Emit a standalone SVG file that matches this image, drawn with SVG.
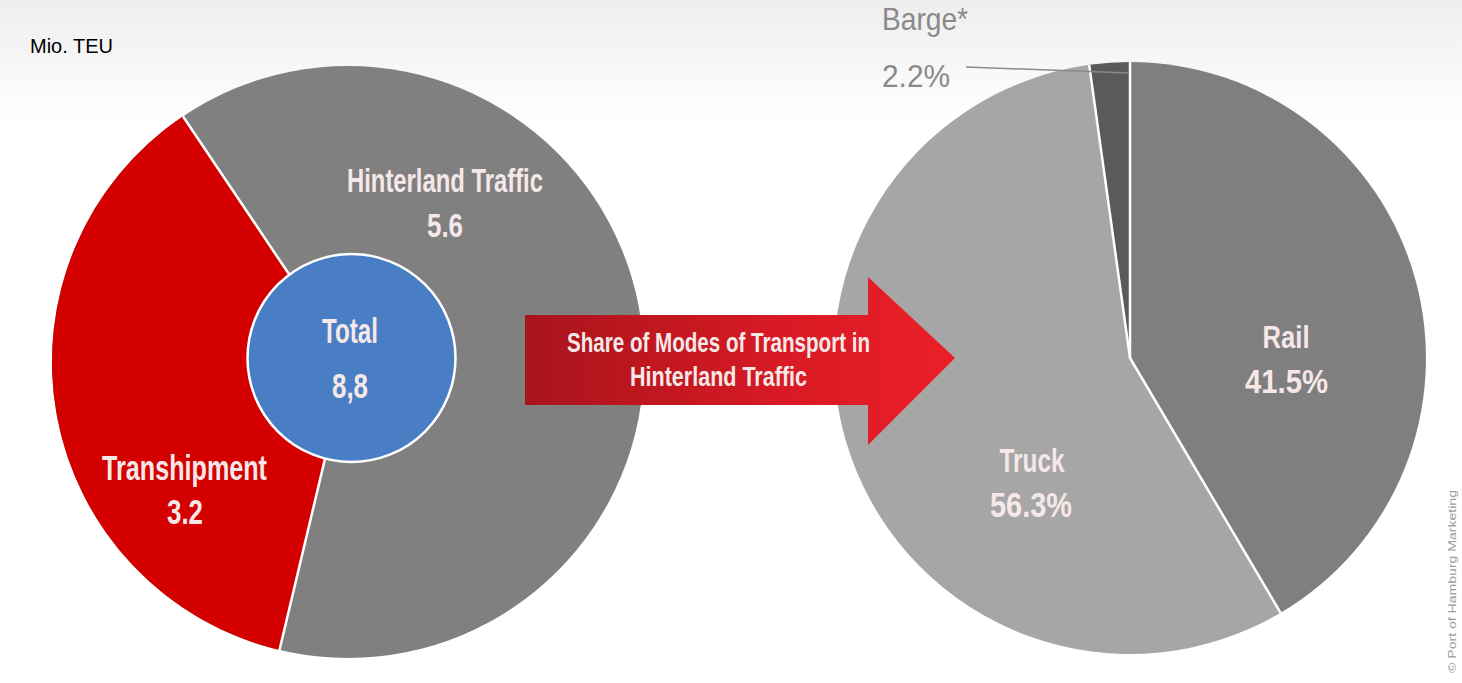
<svg xmlns="http://www.w3.org/2000/svg" width="1462" height="683" viewBox="0 0 1462 683">
<defs>
<linearGradient id="bg" x1="0" y1="0" x2="0" y2="1">
<stop offset="0" stop-color="#eeeeee"/>
<stop offset="0.18" stop-color="#ffffff"/>
<stop offset="1" stop-color="#ffffff"/>
</linearGradient>
<linearGradient id="arrowGrad" x1="0" y1="0" x2="1" y2="0">
<stop offset="0" stop-color="#a8141c"/>
<stop offset="0.6" stop-color="#d81a24"/>
<stop offset="1" stop-color="#ec1f27"/>
</linearGradient>
</defs>
<style>
.lbl{font-family:"Liberation Sans",Arial,sans-serif;font-weight:bold;fill:#f6e8e8;text-anchor:middle}
.sep{stroke:#ffffff;stroke-width:2.5;fill:none}
.gray-lbl{font-family:"Liberation Sans",Arial,sans-serif;font-weight:normal;fill:#8a8a8a}
</style>
<rect x="0" y="0" width="1462" height="683" fill="url(#bg)"/>
<text x="30" y="53" font-family="Liberation Sans, Arial, sans-serif" font-size="20" fill="#000000">Mio. TEU</text>

<g id="left-pie">
<g id="hinterland-slice">
<circle cx="348" cy="362" r="296" fill="#808080"/>
</g>
<g id="transhipment-slice">
<path d="M348,362 L279.5,650 A296,296 0 0 1 182.9,116.3 Z" fill="#d40000"/>
</g>
<g id="left-separators">
<line class="sep" x1="348" y1="362" x2="279.5" y2="650"/>
<line class="sep" x1="348" y1="362" x2="182.9" y2="116.3"/>
</g>
<text class="lbl" x="445" y="192" font-size="33" textLength="196" lengthAdjust="spacingAndGlyphs">Hinterland Traffic</text>
<text class="lbl" x="445" y="237" font-size="33" textLength="36" lengthAdjust="spacingAndGlyphs">5.6</text>
<text class="lbl" x="184.5" y="480" font-size="35" textLength="165" lengthAdjust="spacingAndGlyphs">Transhipment</text>
<text class="lbl" x="185" y="524" font-size="35" textLength="36" lengthAdjust="spacingAndGlyphs">3.2</text>
</g>

<g id="total-node">
<circle cx="351.5" cy="358" r="104" fill="#4a7ec4" stroke="#ffffff" stroke-width="2.5"/>
<text class="lbl" x="350" y="343" font-size="35" textLength="56" lengthAdjust="spacingAndGlyphs" fill="#eef2fa">Total</text>
<text class="lbl" x="350" y="398" font-size="35" textLength="36" lengthAdjust="spacingAndGlyphs">8,8</text>
</g>

<g id="right-pie">
<g id="truck-slice">
<path d="M1130,358 L1280.6,612.8 A296,296 0 1 1 1089.2,64.8 Z" fill="#a6a6a6"/>
</g>
<g id="rail-slice">
<path d="M1130,358 L1130,62 A296,296 0 0 1 1280.6,612.8 Z" fill="#7f7f7f"/>
</g>
<g id="barge-slice">
<path d="M1130,358 L1089.2,64.8 A296,296 0 0 1 1130,62 Z" fill="#5a5a5a"/>
</g>
<g id="right-separators">
<line class="sep" x1="1130" y1="358" x2="1130" y2="62"/>
<line class="sep" x1="1130" y1="358" x2="1089.2" y2="64.8"/>
<line class="sep" x1="1130" y1="358" x2="1280.6" y2="612.8"/>
</g>
<text class="lbl" x="1286" y="348" font-size="32" textLength="47" lengthAdjust="spacingAndGlyphs">Rail</text>
<text class="lbl" x="1286.5" y="393" font-size="34" textLength="83" lengthAdjust="spacingAndGlyphs">41.5%</text>
<text class="lbl" x="1032" y="472" font-size="34" textLength="65" lengthAdjust="spacingAndGlyphs">Truck</text>
<text class="lbl" x="1031" y="517" font-size="35" textLength="82" lengthAdjust="spacingAndGlyphs">56.3%</text>
</g>

<g id="barge-label">
<text class="gray-lbl" x="882" y="30" font-size="32" textLength="86" lengthAdjust="spacingAndGlyphs">Barge*</text>
<text class="gray-lbl" x="882" y="87" font-size="32" textLength="68" lengthAdjust="spacingAndGlyphs">2.2%</text>
</g>

<g id="connectors">
<g id="share-arrow">
<polygon points="525,315 868,315 868,277 955,358 868,445 868,405 525,405" fill="url(#arrowGrad)"/>
<text class="lbl" x="718.5" y="352" font-size="28" textLength="303" lengthAdjust="spacingAndGlyphs">Share of Modes of Transport in</text>
<text class="lbl" x="718.5" y="386" font-size="27" textLength="177" lengthAdjust="spacingAndGlyphs">Hinterland Traffic</text>
</g>
<line id="barge-leader" x1="966" y1="67" x2="1128" y2="73" stroke="#8a8a8a" stroke-width="1.5"/>
</g>

<text x="1456" y="673" transform="rotate(-90 1456 673)" font-family="Liberation Sans, Arial, sans-serif" font-size="11" fill="#9a9a9a" textLength="183" lengthAdjust="spacingAndGlyphs">© Port of Hamburg Marketing</text>
</svg>
